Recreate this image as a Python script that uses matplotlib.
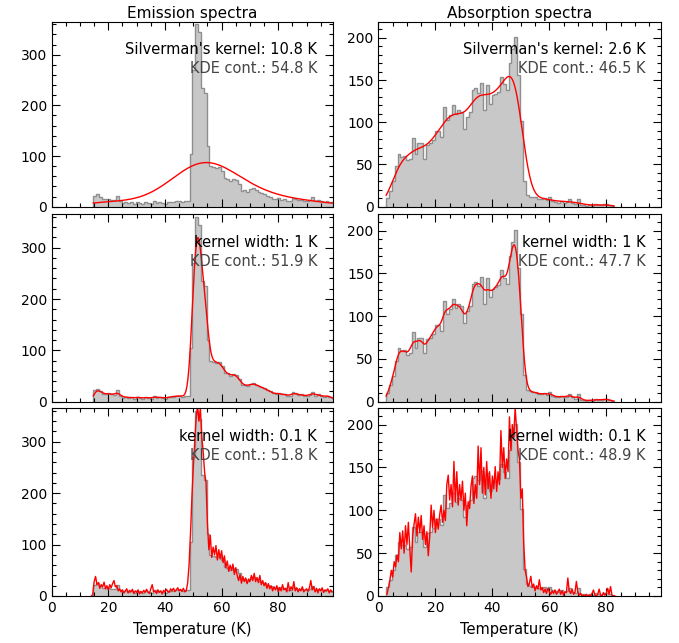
import numpy as np
import matplotlib.pyplot as plt
from matplotlib.ticker import MultipleLocator

# 1 K histogram counts
emis_start = 14.7
emis_counts = [22, 25, 20, 15, 15, 16, 14, 13, 22, 12,
               8, 10, 7, 9, 6, 10, 8, 6, 9, 8,
               5, 12, 7, 9, 8, 6, 9, 10, 10, 11,
               12, 10, 11, 12, 105, 270, 360, 345, 235, 225,
               120, 80, 78, 76, 78, 70, 56, 55, 50, 54,
               52, 45, 32, 33, 30, 34, 36, 33, 30, 28,
               26, 22, 20, 16, 15, 17, 14, 15, 12, 11,
               18, 16, 13, 14, 11, 12, 13, 19, 12, 14,
               11, 10, 12, 10, 9]

abs_start = 2.7
abs_counts = [10, 19, 30, 48, 63, 59, 60, 55, 57, 81,
              63, 75, 75, 57, 73, 75, 79, 90, 90, 83,
              118, 103, 108, 120, 110, 114, 112, 92, 106, 112,
              138, 140, 135, 146, 114, 144, 122, 132, 134, 136,
              154, 145, 138, 170, 187, 201, 156, 102, 31, 14,
              12, 11, 11, 9, 9, 10, 8, 11, 7, 6,
              5, 7, 5, 6, 9, 5, 3, 9, 2, 2,
              1, 2, 1, 3, 2, 2, 3, 3, 2, 1]

# 0.1 K kernel curves, read every 0.5 K
emis_fine_start = 14.0
emis_fine = [0, 3, 28, 38, 22, 26, 15, 22, 18, 27, 14, 20, 12, 22, 16, 24, 30, 18, 20, 10,
             14, 8, 12, 6, 10, 14, 6, 11, 8, 13, 5, 10, 7, 12, 4, 9, 6, 11, 7, 13,
             8, 5, 14, 22, 8, 10, 5, 12, 7, 10, 4, 11, 8, 13, 9, 7, 14, 10, 15, 9,
             12, 16, 10, 13, 9, 15, 8, 10, 25, 60, 120, 190, 250, 300, 345, 370, 340, 365, 310, 280,
             240, 220, 140, 90, 118, 75, 95, 80, 98, 70, 90, 72, 88, 65, 78, 55, 68, 48, 60, 50,
             62, 42, 55, 40, 30, 42, 25, 38, 28, 35, 24, 33, 28, 40, 30, 44, 28, 36, 26, 40,
             22, 30, 20, 26, 15, 24, 14, 20, 10, 18, 12, 20, 8, 16, 10, 22, 12, 15, 8, 26,
             10, 18, 12, 28, 10, 16, 8, 14, 10, 18, 8, 12, 14, 9, 16, 30, 12, 18, 8, 15,
             6, 14, 10, 16, 7, 12, 10, 14, 6, 12, 8]

abs_fine_start = 3.0
abs_fine = [2, 10, 18, 30, 22, 40, 34, 48, 40, 74, 55, 76, 50, 82, 60, 86, 55, 28, 70, 84,
            96, 70, 92, 74, 94, 66, 82, 60, 75, 47, 70, 106, 80, 100, 74, 90, 78, 95, 106, 86,
            100, 88, 130, 141, 112, 130, 104, 157, 110, 145, 106, 130, 112, 134, 100, 120, 82, 110, 102, 128,
            140, 108, 130, 114, 175, 130, 173, 120, 150, 118, 157, 125, 145, 114, 140, 125, 151, 122, 145, 130,
            193, 150, 173, 137, 160, 145, 209, 170, 200, 185, 220, 195, 170, 160, 114, 125, 62, 30, 22, 11,
            15, 23, 10, 14, 6, 12, 8, 19, 7, 10, 4, 8, 3, 9, 5, 2, 6, 3, 7, 2,
            5, 8, 2, 6, 1, 5, 4, 21, 6, 3, 8, 2, 4, 17, 5, 1, 3, 0, 1, 0,
            2, 0, 1, 0, 3, 7, 1, 0, 2, 8, 1, 0, 4, 1, 3, 9, 2, 11, 1, 0, 0]
fine_step = 0.5

titles = ["Emission spectra", "Absorption spectra"]
line1 = [["Silverman's kernel: 10.8 K", "kernel width: 1 K", "kernel width: 0.1 K"],
         ["Silverman's kernel: 2.6 K", "kernel width: 1 K", "kernel width: 0.1 K"]]
line2 = [["KDE cont.: 54.8 K", "KDE cont.: 51.9 K", "KDE cont.: 51.8 K"],
         ["KDE cont.: 46.5 K", "KDE cont.: 47.7 K", "KDE cont.: 48.9 K"]]
kernels = [[10.8, 1.0], [2.6, 1.0]]


def smooth(counts, start, h):
    # gaussian kernel estimate from the binned counts, in counts per K
    counts = np.asarray(counts, float)
    centers = start + 0.5 + np.arange(len(counts))
    x = np.linspace(start, start + len(counts), 600)
    d = (x[:, None] - centers[None, :]) / h
    y = (counts[None, :] * np.exp(-0.5 * d ** 2)).sum(axis=1) / (h * np.sqrt(2 * np.pi))
    return x, y


fig = plt.figure(figsize=(6.79, 6.43), dpi=100)
col_x = [(0.0761, 0.4138), (0.5574, 0.4160)]
row_y = [(0.6785, 0.2877), (0.3753, 0.2914), (0.0731, 0.2919)]

data = [(emis_counts, emis_start, emis_fine, emis_fine_start, 365, 100, 20),
        (abs_counts, abs_start, abs_fine, abs_fine_start, 219, 50, 10)]

for c, (counts, start, fine, fstart, ymax, ymaj, ymin) in enumerate(data):
    edges = start + np.arange(len(counts) + 1)
    for r in range(3):
        ax = fig.add_axes([col_x[c][0], row_y[r][0], col_x[c][1], row_y[r][1]])
        ax.stairs(counts, edges, fill=True, color="#c8c8c8", lw=0)
        ax.stairs(counts, edges, color="#8f8f8f", lw=1.0)
        if r < 2:
            x, y = smooth(counts, start, kernels[c][r])
        else:
            y = np.asarray(fine, float)
            x = fstart + fine_step * np.arange(len(y))
        ax.plot(x, y, color="red", lw=1.0)

        ax.set_xlim(0, 99.2)
        ax.set_ylim(0, ymax)
        ax.xaxis.set_major_locator(MultipleLocator(20))
        ax.xaxis.set_minor_locator(MultipleLocator(5))
        ax.yaxis.set_major_locator(MultipleLocator(ymaj))
        ax.yaxis.set_minor_locator(MultipleLocator(ymin))
        ax.tick_params(which="both", direction="in", top=True, right=True,
                       labelsize=10, width=0.8)
        ax.tick_params(which="major", length=6)
        ax.tick_params(which="minor", length=3)
        if r < 2:
            ax.tick_params(labelbottom=False)
        else:
            ax.set_xlabel("Temperature (K)", fontsize=10.5, labelpad=5)
        if r == 0:
            ax.set_title(titles[c], fontsize=11, pad=3)

        ax.text(0.945, 0.85, line1[c][r], transform=ax.transAxes, ha="right",
                va="center", fontsize=10.5, color="black")
        ax.text(0.945, 0.748, line2[c][r], transform=ax.transAxes, ha="right",
                va="center", fontsize=10.5, color="#444444")

plt.savefig("out.png", dpi=100)
